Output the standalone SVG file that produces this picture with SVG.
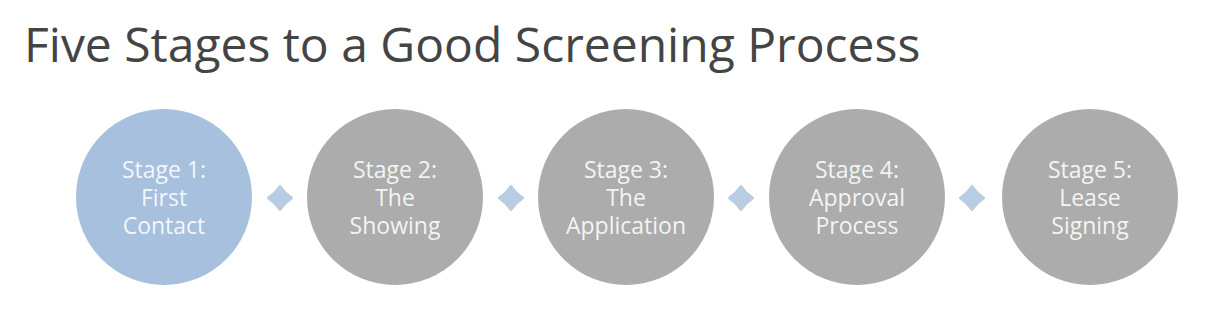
<svg xmlns="http://www.w3.org/2000/svg" width="1218" height="310" viewBox="0 0 1218 310">
<style>
.title{font-family:"Open Sans","Liberation Sans",sans-serif;font-size:48px;fill:#444444}
.lbl{font-family:"Open Sans","Liberation Sans",sans-serif;font-size:23px;fill:#ffffff;fill-opacity:0.88;text-anchor:middle}
.blue{fill:#a7c0dd}
.gray{fill:#acacac}
.dia{fill:#b8cce2;stroke:#b8cce2;stroke-width:3;stroke-linejoin:round}
</style>
<defs>
<path id="star" d="M0,-11.5 Q4.5,-4.5 11.5,0 Q4.5,4.5 0,11.5 Q-4.5,4.5 -11.5,0 Q-4.5,-4.5 0,-11.5 Z"/>
</defs>
<rect width="1218" height="310" fill="#ffffff"/>
<text class="title" x="24" y="62">Five Stages to a Good Screening Process</text>
<g id="connectors">
<use href="#star" class="dia" x="280" y="198"/>
<use href="#star" class="dia" x="511" y="198"/>
<use href="#star" class="dia" x="741" y="198"/>
<use href="#star" class="dia" x="972" y="198"/>
</g>
<g id="stage1">
<circle class="blue" cx="164" cy="197" r="88"/>
<text class="lbl" x="164" y="178">Stage 1:<tspan x="164" dy="28">First</tspan><tspan x="164" dy="28">Contact</tspan></text>
</g>
<g id="stage2">
<circle class="gray" cx="395" cy="197" r="88"/>
<text class="lbl" x="395" y="178">Stage 2:<tspan x="395" dy="28">The</tspan><tspan x="395" dy="28">Showing</tspan></text>
</g>
<g id="stage3">
<circle class="gray" cx="626" cy="197" r="88"/>
<text class="lbl" x="626" y="178">Stage 3:<tspan x="626" dy="28">The</tspan><tspan x="626" dy="28">Application</tspan></text>
</g>
<g id="stage4">
<circle class="gray" cx="857" cy="197" r="88"/>
<text class="lbl" x="857" y="178">Stage 4:<tspan x="857" dy="28">Approval</tspan><tspan x="857" dy="28">Process</tspan></text>
</g>
<g id="stage5">
<circle class="gray" cx="1090" cy="197" r="88"/>
<text class="lbl" x="1090" y="178">Stage 5:<tspan x="1090" dy="28">Lease</tspan><tspan x="1090" dy="28">Signing</tspan></text>
</g>
</svg>
